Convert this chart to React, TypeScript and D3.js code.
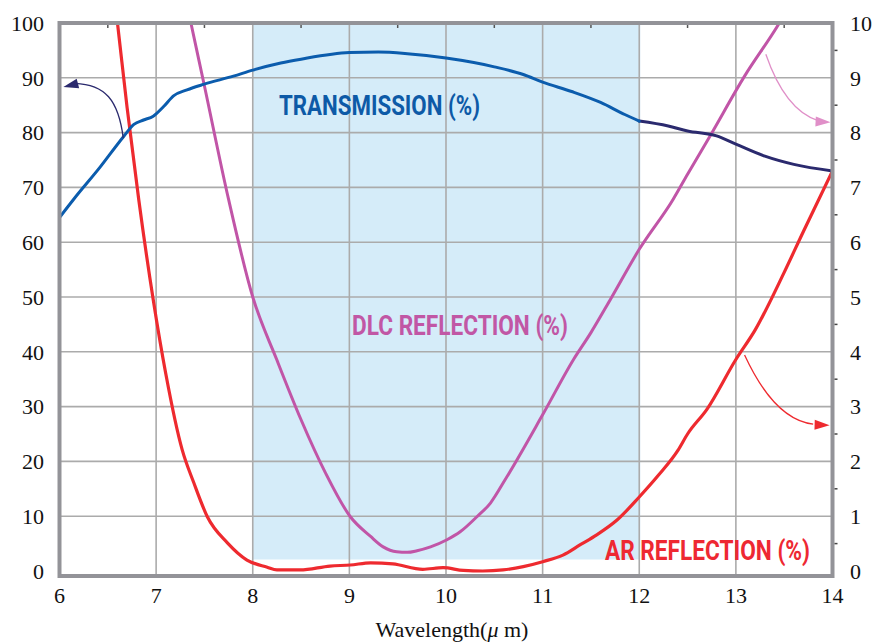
import React from "react";
import * as d3 from "d3";

// ---- data ----
const xTicks = [6, 7, 8, 9, 10, 11, 12, 13, 14];
const leftTicks = [0, 10, 20, 30, 40, 50, 60, 70, 80, 90, 100];
const rightTicks = [0, 1, 2, 3, 4, 5, 6, 7, 8, 9, 10];

// Transmission (%), left axis — blue part up to 12 µm
const transX1 = [6.0, 6.145, 6.42, 6.66, 6.77, 6.87, 6.97, 7.08, 7.18, 7.32, 7.49, 7.8, 8.0, 8.29, 8.5, 9.0, 9.3, 9.6, 10.0, 10.5, 10.8, 11.0, 11.3, 11.6, 11.85, 12.0];
const transV1 = [64.5, 67.8, 73.7, 79.2, 81.5, 82.3, 83.0, 84.8, 86.7, 87.8, 88.8, 90.3, 91.4, 92.7, 93.4, 94.6, 94.7, 94.4, 93.6, 92.0, 90.6, 89.2, 87.5, 85.5, 83.3, 82.1];
// Transmission, navy part after 12 µm
const transX2 = [12.0, 12.3, 12.5, 12.8, 13.0, 13.3, 13.6, 14.0];
const transV2 = [82.1, 81.2, 80.3, 79.4, 77.9, 75.7, 74.2, 73.0];

// DLC reflection (%), right axis
const dlcX = [7.3, 7.36, 7.5, 7.75, 8.0, 8.25, 8.5, 8.75, 9.01, 9.22, 9.35, 9.49, 9.6, 9.7, 9.84, 10.01, 10.15, 10.32, 10.46, 10.61, 11.0, 11.32, 11.5, 11.7, 12.0, 12.35, 12.5, 12.73, 13.09, 13.45, 13.5];
const dlcV = [10.5, 10, 8.85, 6.78, 5.0, 3.85, 2.76, 1.8, 0.99, 0.63, 0.44, 0.35, 0.34, 0.37, 0.44, 0.57, 0.72, 0.99, 1.24, 1.66, 2.85, 3.86, 4.35, 4.95, 5.87, 6.78, 7.24, 7.93, 9.03, 10, 10.15];

// AR reflection (%), right axis
const arX = [6.58, 6.6, 6.7, 6.82, 6.97, 7.1, 7.27, 7.39, 7.53, 7.74, 7.94, 8.15, 8.25, 8.49, 8.8, 9.01, 9.22, 9.45, 9.76, 9.97, 10.18, 10.38, 10.59, 10.8, 11.0, 11.21, 11.39, 11.56, 11.77, 12.0, 12.2, 12.4, 12.5, 12.7, 13.0, 13.2, 13.5, 13.7, 14.0];
const arV = [10.3, 10, 8.45, 6.78, 4.95, 3.6, 2.21, 1.61, 0.99, 0.51, 0.2, 0.07, 0.02, 0.02, 0.09, 0.11, 0.15, 0.13, 0.03, 0.06, 0.01, 0, 0.02, 0.08, 0.17, 0.29, 0.48, 0.66, 0.93, 1.35, 1.75, 2.2, 2.5, 2.95, 3.86, 4.4, 5.45, 6.2, 7.3];

const bandStart = 8;
const bandEnd = 12;

// ---- layout ----
const W = 874, H = 643;
const x = d3.scaleLinear().domain([6, 14]).range([59.5, 832.5]);
const yL = d3.scaleLinear().domain([0, 100]).range([571, 23]);
const yR = d3.scaleLinear().domain([0, 10]).range([571, 23]);

const C = {
  blue: "#0b5cad",
  navy: "#2b2a6e",
  dlc: "#c155a7",
  ar: "#ee2a2f",
  shade: "#d5ecf9",
  grid: "#ababab",
  frame: "#939398",
  pinkArrow: "#e08fc8",
};

function lineOf(xs: number[], vs: number[], ys: d3.ScaleLinear<number, number>) {
  const pts = xs.map((v, i) => [v, vs[i]] as [number, number]);
  return d3
    .line<[number, number]>()
    .x((d) => x(d[0]))
    .y((d) => ys(d[1]))
    .curve(d3.curveMonotoneX)(pts) as string;
}

function Arrow({ d, tip, dir, color, w }: { d: string; tip: [number, number]; dir: [number, number]; color: string; w: number }) {
  const len = Math.hypot(dir[0], dir[1]);
  const ux = dir[0] / len, uy = dir[1] / len;
  const L = 15, Hw = 5;
  const bx = tip[0] - ux * L, by = tip[1] - uy * L;
  const p = `M${tip[0]},${tip[1]} L${bx - uy * Hw},${by + ux * Hw} L${bx + uy * Hw},${by - ux * Hw} Z`;
  return (
    <g>
      <path d={d} fill="none" stroke={color} strokeWidth={w} />
      <path d={p} fill={color} />
    </g>
  );
}

export default function App() {
  const top = yL(100), bot = yL(0) + 5;
  const left = x(6), right = x(14);
  const halfX = d3.range(6.5, 14, 1);
  const halfR = d3.range(0.5, 10, 1);

  // annotation arrows in data coordinates
  const P = (wl: number, v: number) => `${x(wl)},${yL(v)}`;
  const blueArrow = `M${P(6.66, 79.0)} C${P(6.61, 86)} ${P(6.47, 88.8)} ${P(6.16, 89.0)}`;
  const pinkArrow = `M${P(13.31, 94.3)} Q${P(13.51, 84.1)} ${P(13.85, 82.2)}`;
  const redArrow = `M${P(13.09, 39.4)} Q${P(13.40, 27.6)} ${P(13.80, 26.8)}`;

  return (
    <svg width={W} height={H} style={{ position: "absolute", left: 0, top: 0, background: "#fff" }}>
      <defs>
        <clipPath id="plot">
          <rect x={left} y={top} width={right - left} height={bot - top} />
        </clipPath>
      </defs>
      <rect x={0} y={0} width={W} height={H} fill="#fff" />
      {/* shaded band */}
      <rect x={x(bandStart)} y={top} width={x(bandEnd) - x(bandStart) + 1} height={yL(2.1) - top} fill={C.shade} />
      {/* grid */}
      {xTicks.slice(1, -1).map((t) => (
        <line key={"gx" + t} x1={x(t)} x2={x(t)} y1={top} y2={bot} stroke={C.grid} strokeWidth={1.6} />
      ))}
      {leftTicks.slice(1, -1).map((t) => (
        <line key={"gy" + t} x1={left} x2={right} y1={yL(t)} y2={yL(t)} stroke={C.grid} strokeWidth={1.6} />
      ))}
      {/* curves */}
      <g clipPath="url(#plot)" fill="none" strokeLinejoin="round" strokeLinecap="round">
        <path d={lineOf(arX, arV, yR)} stroke={C.ar} strokeWidth={3.2} />
        <path d={lineOf(dlcX, dlcV, yR)} stroke={C.dlc} strokeWidth={3} />
        <path d={lineOf(transX2, transV2, yL)} stroke={C.navy} strokeWidth={3} />
        <path d={lineOf(transX1, transV1, yL)} stroke={C.blue} strokeWidth={3} />
      </g>
      {/* frame */}
      <rect x={left} y={top} width={right - left} height={bot - top} fill="none" stroke={C.frame} strokeWidth={4} />
      {halfX.map((t) => (
        <line key={"tx" + t} x1={x(t)} x2={x(t)} y1={top + 2} y2={top + 5} stroke="#555" strokeWidth={1.5} />
      ))}
      {halfR.map((t) => (
        <line key={"tr" + t} x1={right + 2} x2={right + 5} y1={yR(t)} y2={yR(t)} stroke="#444" strokeWidth={1.5} />
      ))}
      {/* arrows */}
      <Arrow d={blueArrow} tip={[x(6.04), yL(88.3)]} dir={[-1, 0.25]} color={C.navy} w={1.3} />
      <Arrow d={pinkArrow} tip={[x(13.98), yL(81.9)]} dir={[1, 0.05]} color={C.pinkArrow} w={1.3} />
      <Arrow d={redArrow} tip={[x(13.97), yL(26.6)]} dir={[1, 0.03]} color={C.ar} w={1.3} />
      {/* axis labels */}
      <g fontFamily="Liberation Serif, Times New Roman, Times, serif" fontSize={22} fill="#111">
        {leftTicks.map((t) => (
          <text key={"l" + t} x={44} y={yL(t)} dy="0.35em" textAnchor="end">{t}</text>
        ))}
        {rightTicks.map((t) => (
          <text key={"r" + t} x={850} y={yR(t)} dy="0.35em" textAnchor="start">{t}</text>
        ))}
        {xTicks.map((t) => (
          <text key={"b" + t} x={x(t)} y={603} textAnchor="middle">{t}</text>
        ))}
        <text x={452} y={637} textAnchor="middle">Wavelength(<tspan fontStyle="italic">μ</tspan> m)</text>
      </g>
      {/* series labels */}
      <g fontFamily="Roboto, 'Liberation Sans', sans-serif" fontWeight={700} fontSize={27}>
        <text x={279} y={115} fill="#0d5aa7" textLength={201} lengthAdjust="spacingAndGlyphs">TRANSMISSION (%)</text>
        <text x={352} y={335} fill="#c157a5" textLength={216} lengthAdjust="spacingAndGlyphs">DLC REFLECTION (%)</text>
        <text x={605} y={560} fill="#ee2832" textLength={205} lengthAdjust="spacingAndGlyphs">AR REFLECTION (%)</text>
      </g>
    </svg>
  );
}
